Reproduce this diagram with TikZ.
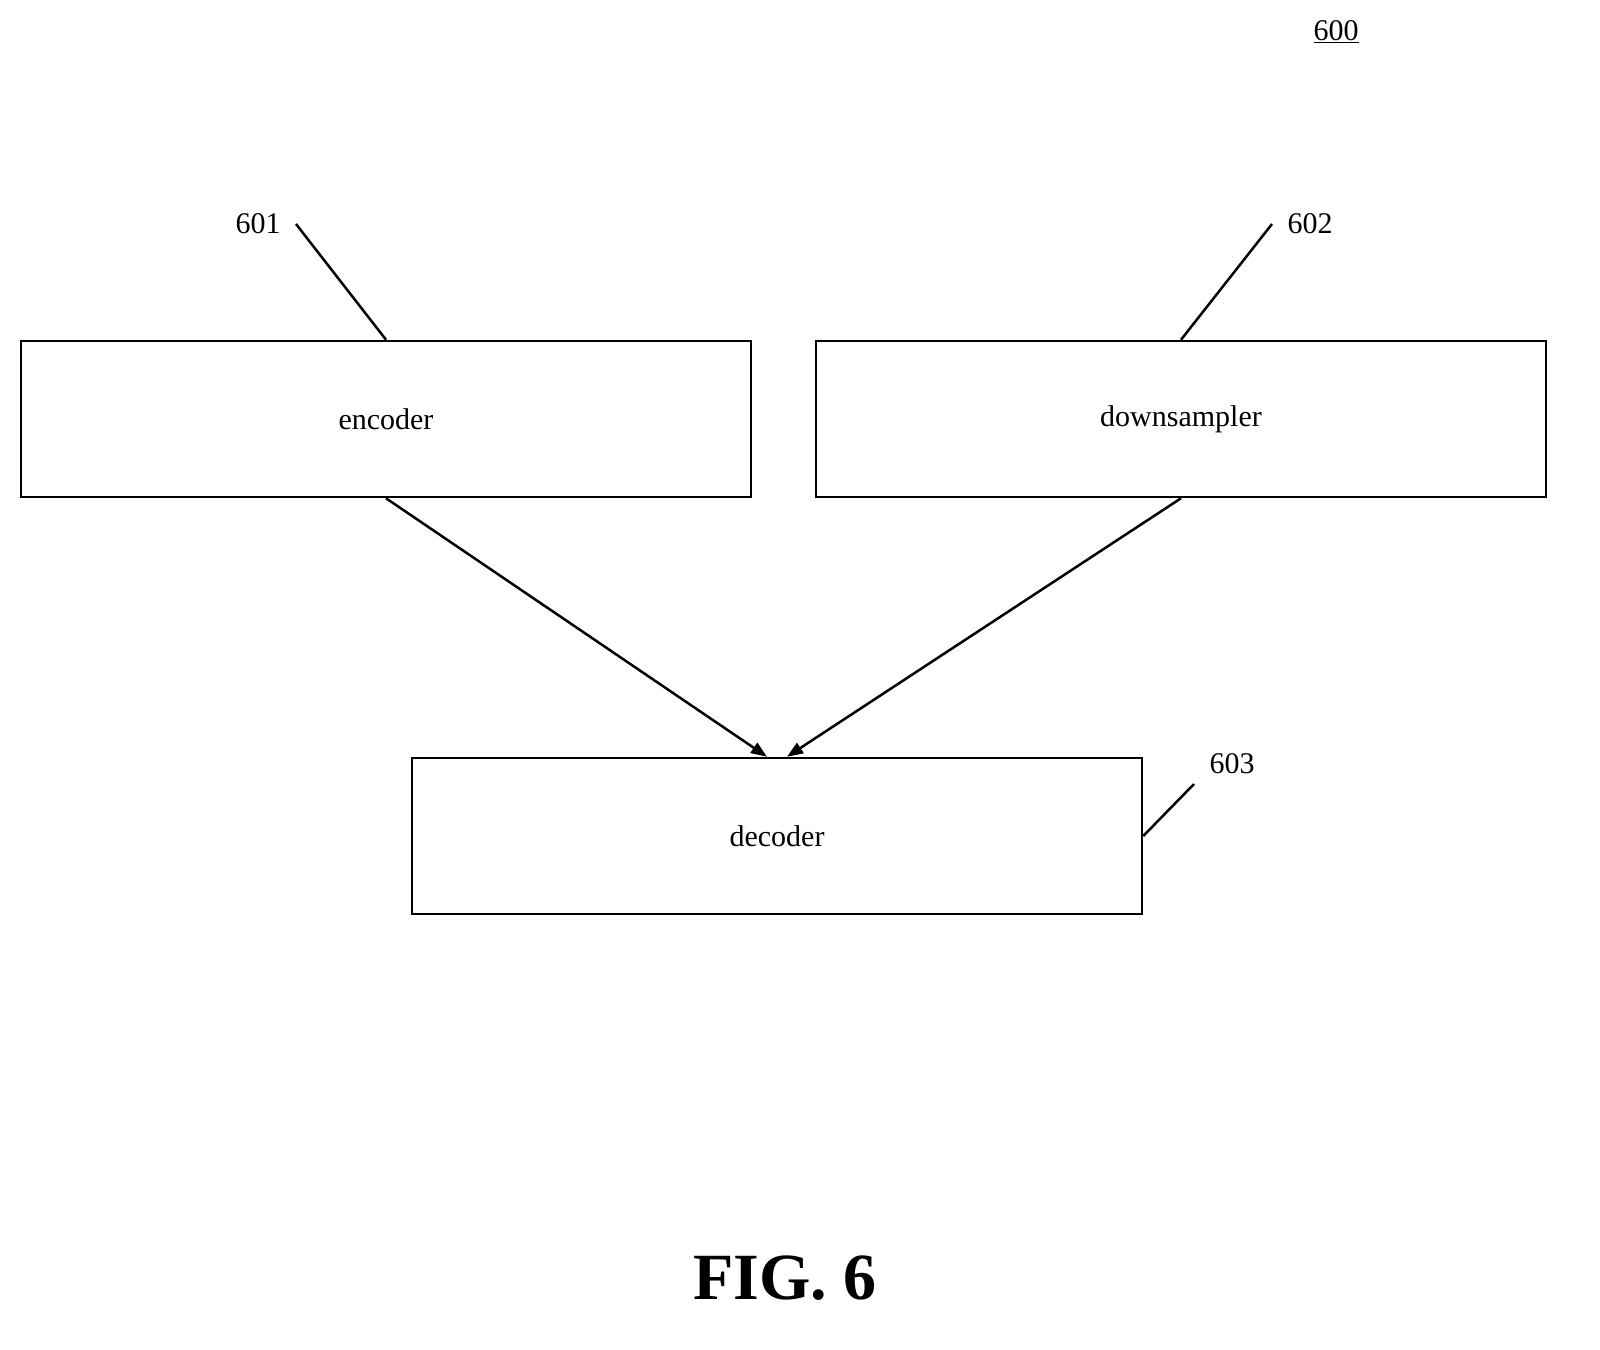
\documentclass[tikz,border=0pt]{standalone}
\usepackage{fontspec}
\setmainfont{Liberation Serif}
\usetikzlibrary{arrows.meta}
\begin{document}
\begin{tikzpicture}[x=1pt,y=-1pt,
  box/.style={draw,line width=2.5pt,minimum width=730pt,minimum height=156pt,inner sep=0pt,font=\fontsize{30}{36}\selectfont},
  lbl/.style={font=\fontsize{30}{36}\selectfont,inner sep=0pt},
  lead/.style={line width=2.5pt},
  arr/.style={line width=2.5pt,-{Triangle[length=16pt,width=12pt]}}]
\useasboundingbox (0,0) rectangle (1600,1349);
\node[box] (enc) at (386,419) {encoder};
\node[box] (down) at (1181,419) {downsampler};
\node[box] (dec) at (777,836) {decoder};
\node[lbl] (l600) at (1336,32) {\underline{600}};
\node[lbl] (l601) at (258,224) {601};
\node[lbl] (l602) at (1310,224) {602};
\node[lbl] (l603) at (1232,764) {603};
\node[font=\bfseries\fontsize{66}{70}\selectfont,inner sep=0pt] (fig) at (785,1278) {FIG. 6};
\coordinate (a601) at (296,224);
\coordinate (a602) at (1272,224);
\coordinate (a603) at (1194,784);
\draw[lead] (a601) -- (enc.north);
\draw[lead] (a602) -- (down.north);
\draw[lead] (a603) -- (dec.east);
\draw[arr] (enc.south) -- ([xshift=-10pt]dec.north);
\draw[arr] (down.south) -- ([xshift=10pt]dec.north);
\end{tikzpicture}
\end{document}
